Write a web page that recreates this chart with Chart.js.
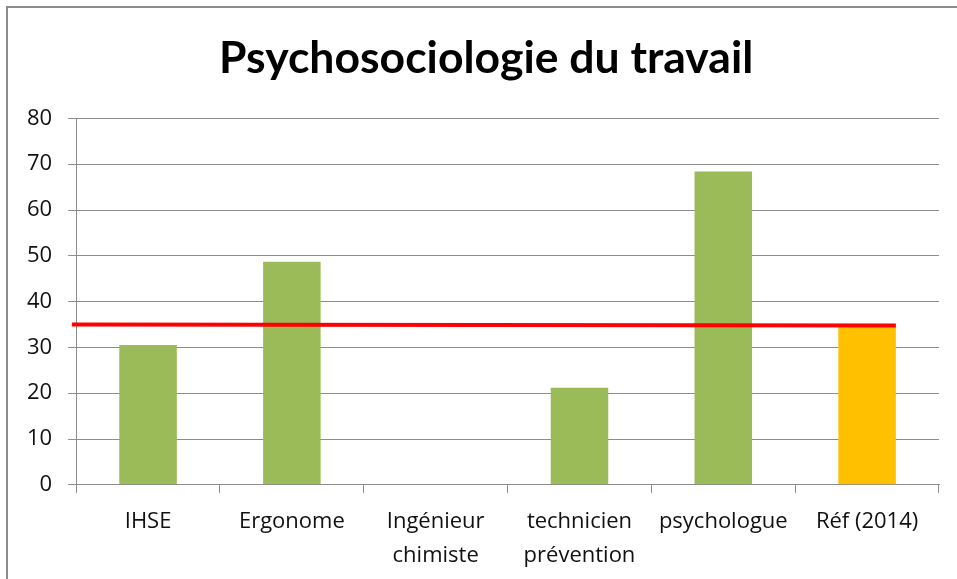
<!DOCTYPE html>
<html lang="fr">
<head>
  <meta charset="UTF-8">
  <title>Psychosociologie du travail</title>
  <script src="https://cdn.jsdelivr.net/npm/chart.js"></script>
  <style>
    html, body { margin: 0; padding: 0; background: #fff; }
    #wrap { position: relative; width: 957px; height: 579px; overflow: hidden; }
    #frame { position: absolute; left: 6px; top: 6px; width: 970px; height: 600px; border: 2px solid #8c8c8c; box-sizing: border-box; }
    canvas { position: absolute; left: 0; top: 0; }
  </style>
</head>
<body>
  <div id="wrap">
    <div id="frame"></div>
    <canvas id="chart" width="957" height="589"></canvas>
  </div>

  <script>
    const categories = ['IHSE', 'Ergonome', ['Ingénieur', 'chimiste'], ['technicien', 'prévention'], 'psychologue', 'Réf (2014)'];
    const values = [30.5, 48.7, 0, 21.2, 68.4, 34.5];
    const barColors = ['#9BBB59', '#9BBB59', '#9BBB59', '#9BBB59', '#9BBB59', '#FFC000'];
    // reference line, from left of first bar to right of last bar
    const refLineX = [-0.53, 5.2];
    const refLineY = [35, 34.8];

    const gridColor = '#8c8c8c';
    const labelFont = '"Open Sans", sans-serif';

    new Chart(document.getElementById('chart'), {
      type: 'bar',
      data: {
        labels: categories,
        datasets: [
          {
            label: 'Valeurs',
            data: values,
            backgroundColor: barColors,
            grouped: false,
            categoryPercentage: 1,
            barPercentage: 0.4,
            order: 2
          },
          {
            type: 'line',
            label: 'Référence',
            data: refLineX.map((x, i) => ({ x: x, y: refLineY[i] })),
            xAxisID: 'x2',
            borderColor: '#FF0000',
            borderWidth: 4,
            pointRadius: 0,
            fill: false,
            clip: false,
            order: 1
          }
        ]
      },
      options: {
        responsive: false,
        animation: false,
        layout: { padding: { top: 30, left: 11, right: 18, bottom: 4 } },
        plugins: {
          legend: { display: false },
          tooltip: { enabled: false },
          title: {
            display: true,
            // en space in front nudges the centred title a little to the right
            text: '\u2002Psychosociologie du travail',
            color: '#000',
            font: { family: 'Lato, sans-serif', size: 44.5, weight: 'bold' },
            padding: { top: 2, bottom: 33 }
          }
        },
        scales: {
          x: {
            grid: { display: true, offset: true, drawOnChartArea: false, color: gridColor, tickLength: 8 },
            border: { color: gridColor },
            ticks: { color: '#111', font: { family: labelFont, size: 22, lineHeight: 1.55 }, padding: 12, maxRotation: 0, autoSkip: false }
          },
          x2: {
            type: 'linear',
            display: false,
            offset: false,
            min: -0.5,
            max: 5.5
          },
          y: {
            min: 0,
            max: 80,
            ticks: { stepSize: 10, color: '#111', font: { family: labelFont, size: 22 }, padding: 16 },
            grid: { color: gridColor, tickLength: 8 },
            border: { color: gridColor }
          }
        }
      }
    });
  </script>
</body>
</html>
